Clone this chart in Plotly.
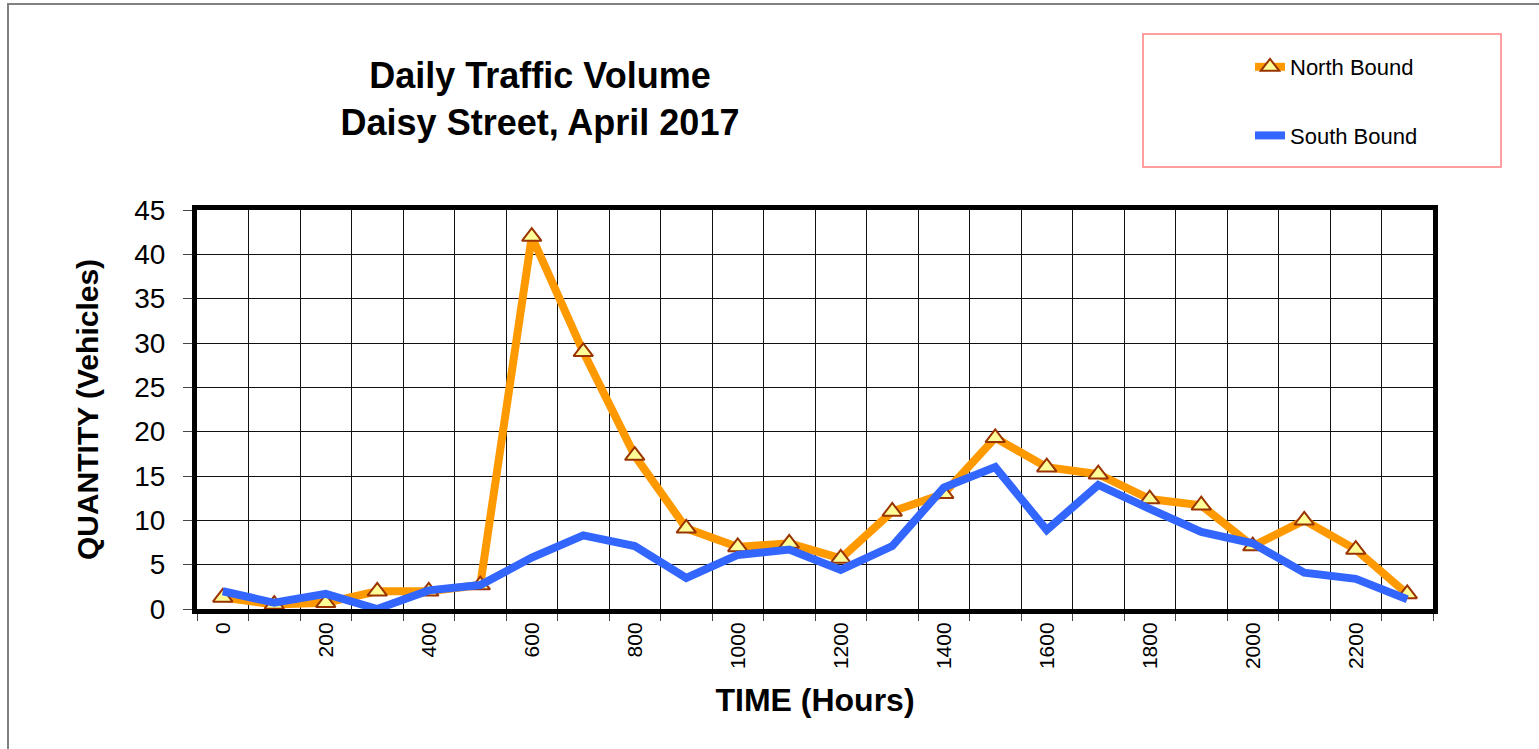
import plotly.graph_objects as go

hours = [0, 100, 200, 300, 400, 500, 600, 700, 800, 900, 1000, 1100,
         1200, 1300, 1400, 1500, 1600, 1700, 1800, 1900, 2000, 2100, 2200, 2300]
north_bound = [1.3, 0.5, 0.7, 2, 2, 2.7, 42, 29, 17.3, 9.1, 7, 7.4,
               5.7, 11, 13, 19.3, 16, 15.2, 12.4, 11.7, 7.1, 10, 6.7, 1.7]
south_bound = [2, 0.7, 1.7, 0, 2.1, 2.7, 5.8, 8.3, 7.1, 3.5, 6.1, 6.7,
               4.4, 7.1, 13.7, 16, 8.9, 14, 11.3, 8.7, 7.4, 4.1, 3.4, 1.1]
x_tick_vals = [0, 200, 400, 600, 800, 1000, 1200, 1400, 1600, 1800, 2000, 2200]
x_tick_text = [str(v) for v in x_tick_vals]
boundaries = [h - 50 for h in hours] + [hours[-1] + 50]

FONT = "Arial, Liberation Sans, Helvetica, sans-serif"
W, H = 1539, 749
L, R, T, B = 197, 106, 210, 140
PW, PH = W - L - R, H - T - B


def px(x):
    return (x - L) / PW


def py(y):
    return (H - B - y) / PH


fig = go.Figure()
fig.add_trace(go.Scatter(
    x=hours, y=north_bound, name="North Bound", mode="lines+markers",
    line=dict(color="#FF9900", width=8),
    marker=dict(symbol="triangle-up", size=17, color="#FFFF99",
                line=dict(color="#993300", width=2)),
    legendgroup="n", legendrank=1,
))
fig.add_trace(go.Scatter(
    x=hours, y=south_bound, name="South Bound", mode="lines",
    line=dict(color="#3366FF", width=8), legendgroup="s", legendrank=2,
))

fig.update_layout(
    width=W, height=H,
    margin=dict(l=L, r=R, t=T, b=B),
    paper_bgcolor="white", plot_bgcolor="white",
    font=dict(family=FONT, color="black"),
    title=dict(text="<b>Daily Traffic Volume<br>Daisy Street, April 2017</b>",
               x=px(540), xref="paper", xanchor="center",
               y=1 - 88 / H, yref="container", yanchor="middle",
               font=dict(size=36, family=FONT, color="black")),
    showlegend=True,
    legend=dict(x=px(1250), xanchor="left", y=py(46), yanchor="top", yref="paper",
                font=dict(size=22, family=FONT, color="black"),
                bgcolor="rgba(0,0,0,0)", borderwidth=0, tracegroupgap=37,
                traceorder="grouped"),
    xaxis=dict(
        range=[-50, 2350], tickmode="array", tickvals=x_tick_vals,
        ticktext=x_tick_text, tickangle=-90, ticks="", showgrid=False,
        tickfont=dict(size=21, family=FONT, color="black"),
        showline=True, linecolor="black", linewidth=5, mirror=True,
        zeroline=False,
        minor=dict(tickmode="array", tickvals=boundaries, showgrid=True,
                   gridcolor="#111111", gridwidth=1, ticks="outside",
                   ticklen=7, tickcolor="#444444", tickwidth=1),
        title=dict(text="<b>TIME (Hours)</b>", standoff=22,
                   font=dict(size=32, family=FONT, color="black")),
    ),
    yaxis=dict(
        range=[0, 45], dtick=5, tick0=0, showgrid=True, gridcolor="#111111",
        gridwidth=1, ticks="outside", ticklen=9, tickcolor="#444444",
        tickwidth=1, tickfont=dict(size=28, family=FONT, color="black"),
        ticklabelstandoff=12,
        showline=True, linecolor="black", linewidth=5, mirror=True,
        zeroline=False,
        title=dict(text="<b>QUANTITY (Vehicles)</b>", standoff=28,
                   font=dict(size=30, family=FONT, color="black")),
    ),
    shapes=[
        # outer chart border
        dict(type="rect", xref="paper", yref="paper",
             x0=px(8), x1=px(W + 20), y0=py(H + 20), y1=py(4),
             line=dict(color="#808080", width=2), fillcolor="rgba(0,0,0,0)",
             layer="below"),
        # legend box
        dict(type="rect", xref="paper", yref="paper",
             x0=px(1143), x1=px(1501), y0=py(167), y1=py(34),
             line=dict(color="#FF7F7F", width=1.5), fillcolor="rgba(0,0,0,0)"),
    ],
)

fig.write_html("out.html", config={"displayModeBar": False},
               post_script="document.body.style.margin='0px';")
